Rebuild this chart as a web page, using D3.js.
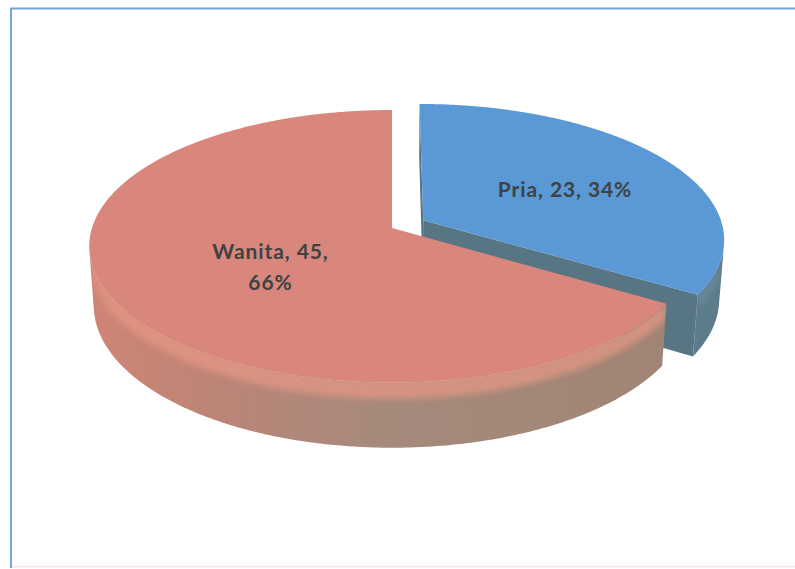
<!DOCTYPE html>
<html>
<head>
<meta charset="utf-8">
<script src="https://cdn.jsdelivr.net/npm/d3@7"></script>
<style>
  html, body { margin: 0; padding: 0; background: #ffffff; }
  svg { display: block; }
</style>
</head>
<body>
<script>
// Respondents by gender
const categories = ["Pria", "Wanita"];
const counts = [23, 45];
const topColors = ["#5a98d6", "#d9867b"];
const sideColors = ["#5d7b8a", "#a98a7c"];
const bevelColors = ["#6d8fa3", "#e99886"];
const explodeBy = [0.12, 0];

const W = 795, H = 569;
const svg = d3.select("body").append("svg").attr("width", W).attr("height", H);

// Simple perspective camera looking down on a unit-radius disc
const tilt = 26.5 * Math.PI / 180, sT = Math.sin(tilt), cT = Math.cos(tilt);
const camDist = 6.66, focal = 1998, thick = 0.222;
const origin = [392, 228];

function project(x, y, z) {
  const u = y * cT - z * sT;
  const d = camDist - y * sT - z * cT;
  return [origin[0] + focal * x / d, origin[1] - focal * u / d];
}

const total = d3.sum(counts);
const pct = d3.format(".0%");
const data = categories.map((c, i) => ({ name: c, value: counts[i], i }));
const arcs = d3.pie().sort(null).value(d => d.value)(data);

const defs = svg.append("defs");
defs.append("filter").attr("id", "soft")
  .attr("x", "-5%").attr("y", "-30%").attr("width", "110%").attr("height", "160%")
  .append("feGaussianBlur").attr("stdDeviation", 3);
defs.append("filter").attr("id", "edge")
  .append("feGaussianBlur").attr("stdDeviation", 0.6);

const sideGrad = defs.append("linearGradient").attr("id", "sideWanita")
  .attr("gradientUnits", "userSpaceOnUse")
  .attr("x1", 92).attr("y1", 0).attr("x2", 665).attr("y2", 0);
[[0, "#cf8575"], [0.22, "#bb8577"], [0.5, "#a68a7c"], [1, "#a08474"]]
  .forEach(([o, c]) => sideGrad.append("stop").attr("offset", o).attr("stop-color", c));

const line = d3.line();

// chart frame
svg.append("path")
  .attr("d", line([[11, 568], [11, 8.5], [W, 8.5]]))
  .attr("fill", "none").attr("stroke", "#72a6d8").attr("stroke-width", 2);
svg.append("line")
  .attr("x1", 12).attr("x2", W).attr("y1", 566.5).attr("y2", 566.5)
  .attr("stroke", "#fce6f4").attr("stroke-width", 2);

const samples = 480;
const pie3d = svg.append("g").attr("filter", "url(#edge)");
arcs.forEach(a => {
  const i = a.data.i;
  const mid = (a.startAngle + a.endAngle) / 2;
  const ox = explodeBy[i] * Math.sin(mid), oz = -explodeBy[i] * Math.cos(mid);
  const rim = (ang, y, r = 1) => project(ox + r * Math.sin(ang), y, oz - r * Math.cos(ang));
  const visible = ang => -ox * Math.sin(ang) + oz * Math.cos(ang) - 1 - camDist * cT * Math.cos(ang) > 0;

  const angs = d3.range(samples + 1).map(k => a.startAngle + (a.endAngle - a.startAngle) * k / samples);
  const g = pie3d.append("g");

  // outer curved wall with a soft highlight along its upper edge
  const vis = angs.filter(visible);
  if (vis.length > 1) {
    const wall = vis.map(t => rim(t, 0)).concat(vis.slice().reverse().map(t => rim(t, -thick)));
    const clipId = "wall" + i;
    defs.append("clipPath").attr("id", clipId).append("path").attr("d", line(wall) + "Z");
    g.append("path").attr("d", line(wall) + "Z")
      .attr("fill", i === 1 ? "url(#sideWanita)" : sideColors[i]);
    const band = vis.map(t => rim(t, 0.01)).concat(vis.slice().reverse().map(t => rim(t, -0.055)));
    g.append("g").attr("clip-path", `url(#${clipId})`)
      .append("path").attr("d", line(band) + "Z")
      .attr("fill", bevelColors[i]).attr("opacity", 0.7).attr("filter", "url(#soft)");
  }

  // cut faces along the two radial edges
  [[a.startAngle, -1], [a.endAngle, 1]].forEach(([ang, dir]) => {
    const nAng = ang + dir * Math.PI / 2;
    const nx = Math.sin(nAng), nz = -Math.cos(nAng);
    const px = ox + 0.5 * Math.sin(ang), pz = oz - 0.5 * Math.cos(ang);
    const dot = (0 - px) * nx + (camDist * cT - pz) * nz;
    if (dot > 0.001) {
      const face = [project(ox, 0, oz), rim(ang, 0), rim(ang, -thick), project(ox, -thick, oz)];
      g.append("path").attr("d", line(face) + "Z").attr("fill", d3.color(sideColors[i]).darker(0.15));
    }
  });

  // top face
  const top = [project(ox, 0, oz)].concat(angs.map(t => rim(t, 0)));
  g.append("path").attr("d", line(top) + "Z").attr("fill", topColors[i]);

  a.ox = ox; a.oz = oz; a.mid = mid;
});

// data labels: "name, value, percent"
const labelR = { Pria: 0.57, Wanita: 0.45 };
const wrapAfterValue = { Pria: false, Wanita: true };
arcs.forEach(a => {
  const d = a.data;
  const r = labelR[d.name];
  const p = project(a.ox + r * Math.sin(a.mid), 0, a.oz - r * Math.cos(a.mid));
  const lines = wrapAfterValue[d.name]
    ? [`${d.name}, ${d.value},`, pct(d.value / total)]
    : [`${d.name}, ${d.value}, ${pct(d.value / total)}`];
  const t = svg.append("text")
    .attr("x", p[0]).attr("y", p[1])
    .attr("text-anchor", "middle")
    .attr("font-family", "Lato, 'Open Sans', sans-serif")
    .attr("font-weight", 700).attr("font-size", 21)
    .attr("letter-spacing", 0.9)
    .attr("fill", "#3e4242");
  lines.forEach((s, k) => t.append("tspan").attr("x", p[0])
    .attr("dy", k === 0 ? (lines.length > 1 ? 0.5 : 12) : 31).text(s));
});
</script>
</body>
</html>
